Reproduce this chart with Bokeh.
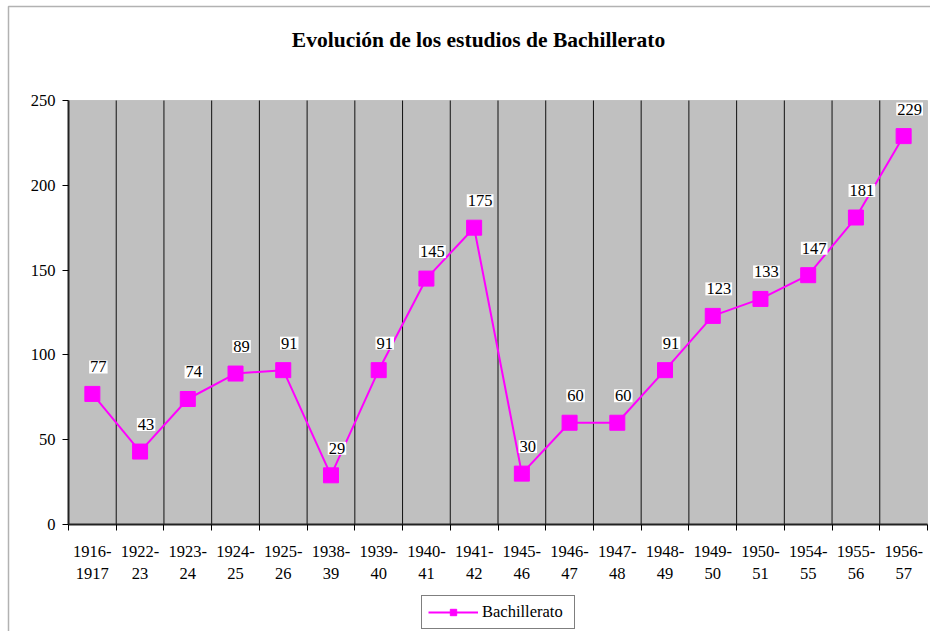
from bokeh.plotting import figure
from bokeh.models import (FixedTicker, ColumnDataSource, Label, Legend,
                          LegendItem, BoxAnnotation, Range1d, Text)
from bokeh.core.properties import value
from bokeh.embed import file_html
from bokeh.resources import INLINE

periods = ["1916-\n1917", "1922-\n23", "1923-\n24", "1924-\n25", "1925-\n26",
           "1938-\n39", "1939-\n40", "1940-\n41", "1941-\n42", "1945-\n46",
           "1946-\n47", "1947-\n48", "1948-\n49", "1949-\n50", "1950-\n51",
           "1954-\n55", "1955-\n56", "1956-\n57"]
students = [77, 43, 74, 89, 91, 29, 91, 145, 175, 30, 60, 60, 91, 123, 133, 147, 181, 229]
y_ticks = [0, 50, 100, 150, 200, 250]
series_name = "Bachillerato"
title_text = "Evolución de los estudios de Bachillerato"

SERIF = "Liberation Serif"
MAGENTA = "#FF00FF"
FS = "16.5px"

# ---- layout (pixels of the 930x631 canvas) ----
W, H = 930, 631
PL, PR, PT, PB = 68, 927, 100, 524      # plot-area edges
YMAX = 250
n = len(periods)
ux = (PR - PL) / n                       # px per category
uy = (PB - PT) / YMAX                    # px per unit

def dx(px):   # canvas x pixel -> data x
    return (px - PL) / ux

def dy(py):   # canvas y pixel -> data y
    return (PB - py) / uy

centers = [i + 0.5 for i in range(n)]
bounds = list(range(n + 1))

p = figure(width=W, height=H, output_backend="svg", toolbar_location=None,
           x_range=Range1d(dx(0), dx(W)), y_range=Range1d(dy(H), dy(0)),
           min_border=0, min_border_left=0, min_border_right=0,
           min_border_top=0, min_border_bottom=0)
p.background_fill_color = "white"
p.border_fill_color = "white"
p.outline_line_color = None
p.xgrid.visible = False
p.ygrid.visible = False

# outer chart border (only left/top fall inside the window)
p.add_layout(BoxAnnotation(left=dx(8), right=dx(W + 200), top=dy(6), bottom=dy(H + 200),
                           fill_alpha=0, line_color="black", line_width=1.5,
                           level="underlay"))
# plot area
p.add_layout(BoxAnnotation(left=0, right=n, bottom=0, top=YMAX,
                           fill_color="#C0C0C0", fill_alpha=1,
                           line_color="#808080", line_width=1, level="underlay"))

# vertical category separators
inner = bounds[1:-1]
p.segment(x0=inner, y0=[0] * len(inner), x1=inner, y1=[YMAX] * len(inner),
          line_color="#111111", line_width=1)

# x axis
xa = p.xaxis[0]
xa.fixed_location = 0
xa.bounds = (0, n)
xa.ticker = FixedTicker(ticks=centers, minor_ticks=bounds)
xa.major_label_overrides = {c: lab for c, lab in zip(centers, periods)}
xa.major_tick_out = 0
xa.major_tick_in = 0
xa.minor_tick_out = 6
xa.minor_tick_in = 0
xa.minor_tick_line_color = "black"
xa.axis_line_color = "#222222"
xa.axis_line_width = 2
xa.major_label_text_font = SERIF
xa.major_label_text_font_size = FS
xa.major_label_text_color = "black"
xa.major_label_standoff = 11

# y axis
ya = p.yaxis[0]
ya.fixed_location = 0
ya.bounds = (0, YMAX)
ya.ticker = FixedTicker(ticks=y_ticks)
ya.major_tick_out = 6
ya.major_tick_in = 0
ya.minor_tick_out = 0
ya.minor_tick_in = 0
ya.major_tick_line_color = "black"
ya.axis_line_color = "#222222"
ya.axis_line_width = 2
ya.major_label_text_font = SERIF
ya.major_label_text_font_size = FS
ya.major_label_text_color = "black"
ya.major_label_standoff = 7

src = ColumnDataSource(dict(x=centers, y=students, t=[str(v) for v in students]))
ln = p.line("x", "y", source=src, line_color=MAGENTA, line_width=2)
sq = p.scatter("x", "y", source=src, marker="square", size=15,
               fill_color=MAGENTA, line_color=MAGENTA)

# data labels in white boxes
text_kw = dict(x="x", y="y", text="t", source=src, x_offset=6, y_offset=-27,
               text_align="center", text_baseline="middle",
               text_font=value(SERIF), text_font_size=value(FS), text_color="black")
tprops = Text.properties()
if "background_fill_color" in tprops:
    text_kw["background_fill_color"] = "white"
if "padding" in tprops:
    text_kw["padding"] = 1
p.text(**text_kw)

p.add_layout(Label(x=dx(478), y=dy(39), text=title_text, text_align="center",
                   text_baseline="middle", text_font=SERIF,
                   text_font_size="21.5px", text_font_style="bold",
                   text_color="black"))

legend = Legend(items=[LegendItem(label=series_name, renderers=[ln, sq])],
                location=(421, H - 629), orientation="horizontal")
legend.border_line_color = "black"
legend.border_line_width = 1
legend.background_fill_color = "white"
legend.background_fill_alpha = 1
legend.glyph_width = 50
legend.glyph_height = 16
legend.label_standoff = 4
legend.label_width = 86
legend.label_height = 16
legend.label_text_font = SERIF
legend.label_text_font_size = FS
legend.label_text_color = "black"
legend.padding = 6
legend.margin = 0
legend.spacing = 0
p.add_layout(legend)

open("out.html", "w").write(file_html(p, INLINE))
